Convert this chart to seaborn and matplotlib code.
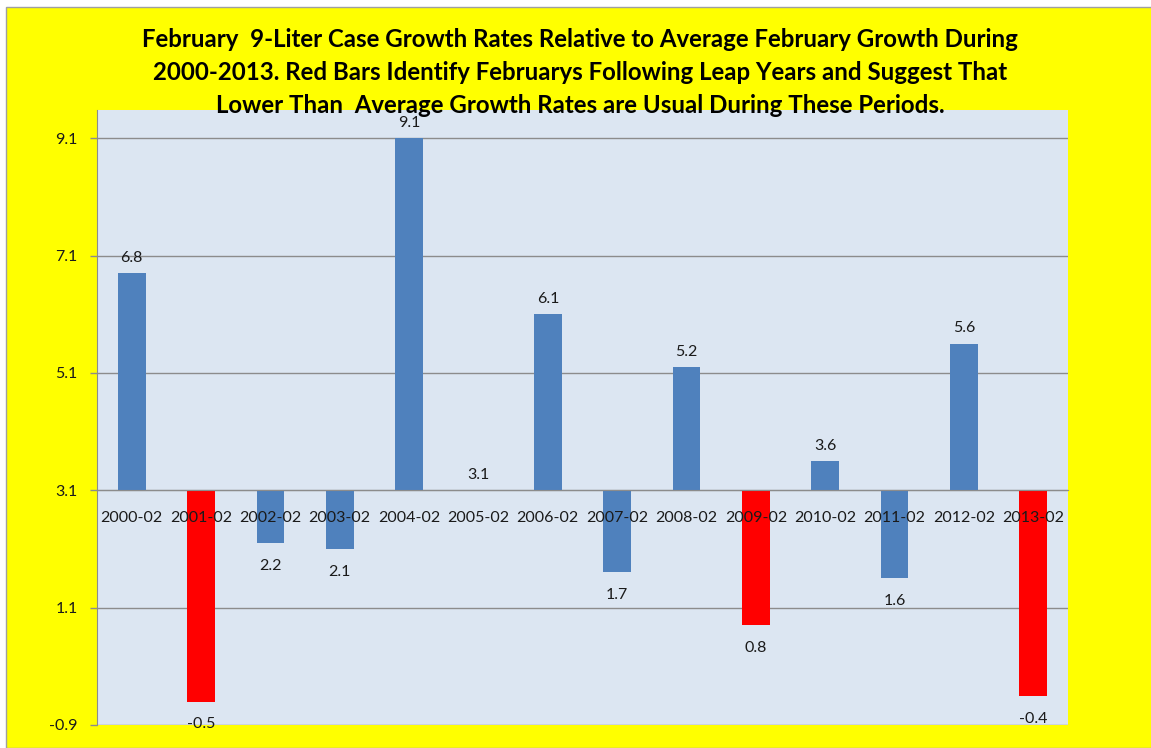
import numpy as np
import pandas as pd
import matplotlib
matplotlib.use("Agg")
import matplotlib.pyplot as plt
from matplotlib.patches import Rectangle
from matplotlib.ticker import FixedLocator, FuncFormatter
import seaborn as sns

# ── data ─────────────────────────────────────────────
months = ['2000-02', '2001-02', '2002-02', '2003-02', '2004-02', '2005-02', '2006-02',
          '2007-02', '2008-02', '2009-02', '2010-02', '2011-02', '2012-02', '2013-02']
growth = [6.8, -0.5, 2.2, 2.1, 9.1, 3.1, 6.1, 1.7, 5.2, 0.8, 3.6, 1.6, 5.6, -0.4]
after_leap = [False, True, False, False, False, False, False,
              False, False, True, False, False, False, True]
avg_growth = 3.1   # bars are drawn relative to the average
y_ticks = [-0.9, 1.1, 3.1, 5.1, 7.1, 9.1]

BLUE = '#4F81BD'
RED = '#FF0000'
YELLOW = '#FFFF00'
PLOT_BG = '#DCE6F2'
GRID = '#8C8C8C'

df = pd.DataFrame({'month': months, 'growth': growth})
df['diff'] = df['growth'] - avg_growth
colors = [RED if f else BLUE for f in after_leap]

sns.set_style('white')
plt.rcParams['font.family'] = ['Lato', 'DejaVu Sans']

fig = plt.figure(figsize=(11.51, 7.48), dpi=100)
fig.patch.set_facecolor('white')
# yellow chart area with thin border
fig.patches.append(Rectangle((5.5 / 1151, 0), 1.0, 1 - 6.5 / 748, transform=fig.transFigure,
                             facecolor=YELLOW, edgecolor='#A0A0A0', linewidth=1, zorder=-5))

ax = fig.add_axes([97 / 1151, 23 / 748, (1068 - 97) / 1151, (725 - 110) / 748])
ax.set_zorder(2)
ax.set_facecolor(PLOT_BG)

sns.barplot(data=df, x='month', y='diff', hue='month', palette=colors, legend=False,
            width=0.4, saturation=1, linewidth=0, ax=ax, zorder=3)

ax.set_xlim(-0.5, len(months) - 0.5)
ax.set_ylim(-0.9 - avg_growth, 9.58 - avg_growth)

# y axis in original units
ax.yaxis.set_major_locator(FixedLocator([t - avg_growth for t in y_ticks]))
ax.yaxis.set_major_formatter(FuncFormatter(lambda v, p: f"{v + avg_growth:.1f}"))
ax.yaxis.grid(True, color=GRID, linewidth=1)
ax.set_axisbelow(True)
# category labels sit on top of the bars
ax.xaxis.set_zorder(5)

# category axis crosses at the average
ax.spines['bottom'].set_position(('data', 0))
ax.spines['bottom'].set_color(GRID)
ax.spines['left'].set_color(GRID)
ax.spines['top'].set_visible(False)
ax.spines['right'].set_visible(False)
ax.spines['bottom'].set_zorder(4)

ax.set_xticks(np.arange(len(months)))
ax.set_xticks(np.arange(len(months) + 1) - 0.5, minor=True)
ax.tick_params(axis='x', which='major', length=0, pad=15, labelsize=11.5, colors='#1A1A1A')
ax.tick_params(axis='x', which='minor', length=5, width=1, color=GRID, direction='out')
ax.tick_params(axis='y', length=5, width=1, color=GRID, direction='out', pad=9,
               labelsize=11.5, labelcolor='#1A1A1A', left=True)
ax.set_xlabel('')
ax.set_ylabel('')

# value labels
for i, (g, d) in enumerate(zip(growth, df['diff'])):
    if d >= 0:
        ax.annotate(f"{g:.1f}", (i, d), xytext=(0, 6), textcoords='offset points',
                    ha='center', va='bottom', fontsize=11.5, color='#1A1A1A', zorder=5)
    else:
        ax.annotate(f"{g:.1f}", (i, d), xytext=(0, -11.5), textcoords='offset points',
                    ha='center', va='top', fontsize=11.5, color='#1A1A1A', zorder=5)

fig.text(0.504, 1 - 28 / 748,
         "February  9-Liter Case Growth Rates Relative to Average February Growth During\n"
         "2000-2013. Red Bars Identify Februarys Following Leap Years and Suggest That\n"
         "Lower Than  Average Growth Rates are Usual During These Periods.",
         ha='center', va='top', fontsize=17.3, fontweight='bold', linespacing=1.53,
         color='black')

fig.savefig('out.png', dpi=100, facecolor=fig.get_facecolor())
